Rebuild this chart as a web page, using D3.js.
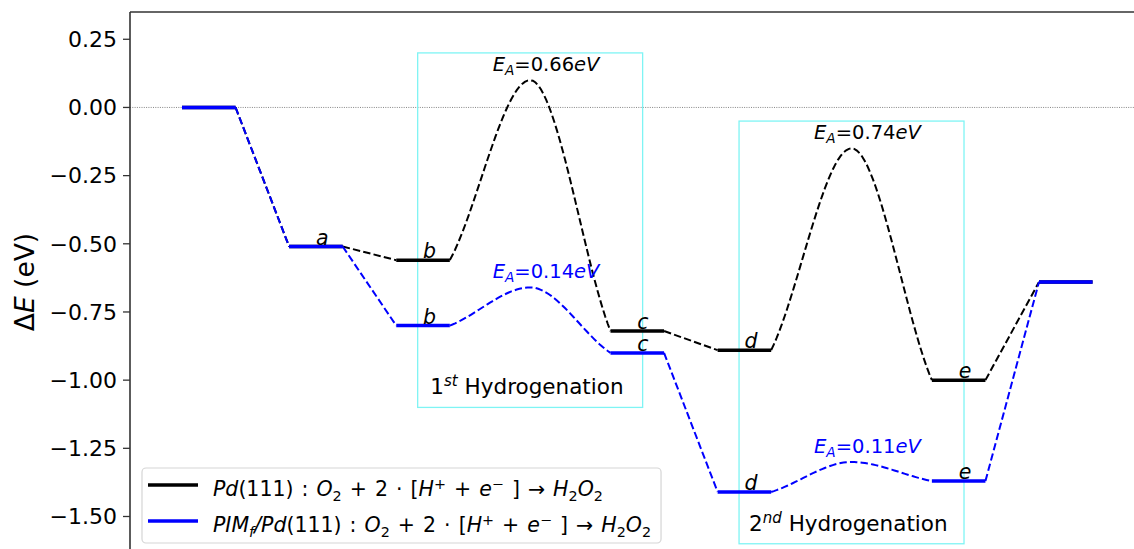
<!DOCTYPE html>
<html>
<head>
<meta charset="utf-8">
<script src="https://cdn.jsdelivr.net/npm/d3@7"></script>
<style>
  html, body { margin: 0; padding: 0; background: #fff; }
  svg { display: block; font-family: "DejaVu Sans", sans-serif; }
</style>
</head>
<body>
<div id="chart"></div>
<script>
// reaction steps (TS = transition state between two minima)
const steps = [0, 1, 2, 3, 4, 5, 6, 7, 8];
const isTS = [false, false, false, true, false, false, true, false, false];
const stateLetters = ["", "a", "b", "", "c", "d", "", "e", ""];
const pdEnergy  = [0.00, -0.51, -0.56, 0.10, -0.82, -0.89, -0.15, -1.00, -0.64];
const pimEnergy = [0.00, -0.51, -0.80, -0.66, -0.90, -1.41, -1.30, -1.37, -0.64];
const pdBarriers  = ["0.66", "0.74"];
const pimBarriers = ["0.14", "0.11"];
const yTicks = [0.25, 0.00, -0.25, -0.50, -0.75, -1.00, -1.25, -1.50];
// hydrogenation boxes
const boxX0 = [2.2, 5.2];
const boxX1 = [4.3, 7.3];
const boxBottom = [-1.10, -1.60];
const boxTop = [0.20, -0.05];
const boxSup = ["st", "nd"];
const boxNum = ["1", "2"];
const boxTextY = [-1.05, -1.552];

var width = 1134, height = 549;
var marginLeft = 130, marginTop = 12;

var svg = d3.select("#chart").append("svg")
    .attr("width", width)
    .attr("height", height);

var x = d3.scaleLinear().domain([0, 8]).range([182, 1039]);
var y = d3.scaleLinear().domain([-1.65, 0.35]).range([557.4, marginTop]);

// write mathtext-like strings: parts = [text, italic?, "sub"|"sup"|null]
function rich(sel, parts, fs) {
    var shift = 0;
    parts.forEach(p => {
        var ts = sel.append("tspan").text(p[0]);
        if (p[1]) ts.style("font-style", "italic");
        var want = 0, size = fs;
        if (p[2] === "sub") { want = 0.22 * fs; size = fs * 0.7; }
        if (p[2] === "sup") { want = -0.36 * fs; size = fs * 0.7; }
        ts.style("font-size", size + "px");
        if (want !== shift) { ts.attr("dy", want - shift); shift = want; }
    });
    return sel;
}

// smooth hump from one level end over the TS to the next level start
function hump(x0, y0, xp, yp, x1, y1) {
    var pts = [];
    function half(xa, ya, xb, yb, out) {
        var n = 30;
        for (var j = 0; j <= n; j++) {
            var t = j / n;
            var h00 = 2 * t * t * t - 3 * t * t + 1, h01 = 1 - h00;
            var h10 = t * t * t - 2 * t * t + t, h11 = t * t * t - t * t;
            var s = 0.8 * (yb - ya);
            var v = out ? h00 * ya + h01 * yb + h10 * s
                        : h00 * ya + h01 * yb + h11 * s;
            pts.push([xa + (xb - xa) * t, v]);
        }
    }
    half(x0, y0, xp, yp, true);
    half(xp, yp, x1, y1, false);
    return pts;
}

// zero line
svg.append("line")
    .attr("x1", marginLeft).attr("x2", width)
    .attr("y1", y(0)).attr("y2", y(0))
    .attr("stroke", "#666").attr("stroke-width", 0.8)
    .attr("stroke-dasharray", "1,1.3");

// hydrogenation boxes
boxX0.forEach((b, k) => {
    svg.append("rect")
        .attr("x", x(b)).attr("y", y(boxTop[k]))
        .attr("width", x(boxX1[k]) - x(b))
        .attr("height", y(boxBottom[k]) - y(boxTop[k]))
        .attr("fill", "none")
        .attr("stroke", "#7ff4f4").attr("stroke-width", 1.3);
    var t = svg.append("text")
        .attr("x", x((b + boxX1[k]) / 2 - 0.03))
        .attr("y", y(boxTextY[k]))
        .attr("text-anchor", "middle")
        .style("font-size", "21.5px");
    rich(t, [[boxNum[k], false, null], [boxSup[k], true, "sup"], [" Hydrogenation", false, null]], 21.5);
});

var line = d3.line().x(d => x(d[0])).y(d => y(d[1]));

function drawSeries(energy, color, barriers) {
    var g = svg.append("g");
    var dash = "7.4,3.2";
    // connectors
    for (var i = 0; i < steps.length - 1; i++) {
        if (isTS[i]) continue;
        if (isTS[i + 1]) {
            g.append("path")
                .attr("d", line(hump(i + 0.5, energy[i], i + 1.25, energy[i + 1], i + 2, energy[i + 2])))
                .attr("fill", "none").attr("stroke", color)
                .attr("stroke-width", 2).attr("stroke-dasharray", dash);
        } else {
            g.append("line")
                .attr("x1", x(i + 0.5)).attr("y1", y(energy[i]))
                .attr("x2", x(i + 1)).attr("y2", y(energy[i + 1]))
                .attr("stroke", color).attr("stroke-width", 2)
                .attr("stroke-dasharray", dash);
        }
    }
    // levels
    steps.forEach(i => {
        if (isTS[i]) return;
        g.append("line")
            .attr("x1", x(i)).attr("x2", x(i + 0.5))
            .attr("y1", y(energy[i])).attr("y2", y(energy[i]))
            .attr("stroke", color).attr("stroke-width", 3.5);
    });
    // barrier labels
    var k = 0;
    steps.forEach(i => {
        if (!isTS[i]) return;
        var t = g.append("text")
            .attr("x", x(i - 0.1))
            .attr("y", y(energy[i] + 0.034))
            .attr("fill", color)
            .style("font-size", "19.5px");
        rich(t, [["E", true, null], ["A", true, "sub"], ["=" + barriers[k], false, null], ["eV", true, null]], 19.5);
        k++;
    });
}

drawSeries(pdEnergy, "#000", pdBarriers);
drawSeries(pimEnergy, "#0000ff", pimBarriers);

// state letters
function drawLetters(energy, skip) {
    steps.forEach(i => {
        if (!stateLetters[i] || (skip && skip[i] === energy[i])) return;
        svg.append("text")
            .attr("x", x(i + 0.25))
            .attr("y", y(energy[i]) - 2)
            .style("font-size", "20.5px")
            .style("font-style", "italic")
            .text(stateLetters[i]);
    });
}
drawLetters(pdEnergy, null);
drawLetters(pimEnergy, pdEnergy);

// spines
svg.append("line").attr("x1", marginLeft).attr("x2", marginLeft).attr("y1", marginTop).attr("y2", height)
    .attr("stroke", "#333").attr("stroke-width", 1.6);
svg.append("line").attr("x1", marginLeft).attr("x2", width).attr("y1", marginTop).attr("y2", marginTop)
    .attr("stroke", "#333").attr("stroke-width", 1.6);

// y ticks
var fmt = d3.format(".2f");
yTicks.forEach(v => {
    svg.append("line").attr("x1", marginLeft - 7).attr("x2", marginLeft)
        .attr("y1", y(v)).attr("y2", y(v))
        .attr("stroke", "#333").attr("stroke-width", 1.3);
    svg.append("text")
        .attr("x", marginLeft - 13).attr("y", y(v) + 7.8)
        .attr("text-anchor", "end")
        .style("font-size", "22px")
        .text(fmt(v).replace("-", "\u2212"));
});

// axis label
var yl = svg.append("text")
    .attr("transform", "translate(34,282) rotate(-90)")
    .attr("text-anchor", "middle")
    .style("font-size", "26.5px");
rich(yl, [["\u0394", false, null], ["E", true, null], [" (eV)", false, null]], 26.5);

// legend
var leg = svg.append("g");
var legBox = leg.append("rect")
    .attr("x", 142).attr("y", 468).attr("height", 75).attr("rx", 4)
    .attr("fill", "#fff").attr("fill-opacity", 0.8)
    .attr("stroke", "#d5d5d5").attr("stroke-width", 1.2);
var legRows = [
    { color: "#000", parts: [["Pd", true, null], ["(111)", false, null], [" :  ", false, null]] },
    { color: "#0000ff", parts: [["PIM", true, null], ["f", true, "sub"], ["/Pd", true, null], ["(111)", false, null], [" :  ", false, null]] }
];
var eqParts = [["O", true, null], ["2", false, "sub"], [" + 2 \u00b7 [", false, null], ["H", true, null], ["+", false, "sup"],
    [" + ", false, null], ["e", true, null], ["\u2212", false, "sup"], [" ] \u2192 ", false, null],
    ["H", true, null], ["2", false, "sub"], ["O", true, null], ["2", false, "sub"]];
var maxW = 0;
legRows.forEach((r, k) => {
    var ly = 485 + k * 36;
    leg.append("line").attr("x1", 148).attr("x2", 198).attr("y1", ly).attr("y2", ly)
        .attr("stroke", r.color).attr("stroke-width", 3.5);
    var t = leg.append("text").attr("x", 213).attr("y", ly + 11)
        .style("font-size", "20.5px").style("word-spacing", "1.5px");
    rich(t, r.parts.concat(eqParts), 20.5);
    maxW = Math.max(maxW, t.node().getComputedTextLength());
});
legBox.attr("width", 213 + maxW + 10 - 142);
</script>
</body>
</html>
